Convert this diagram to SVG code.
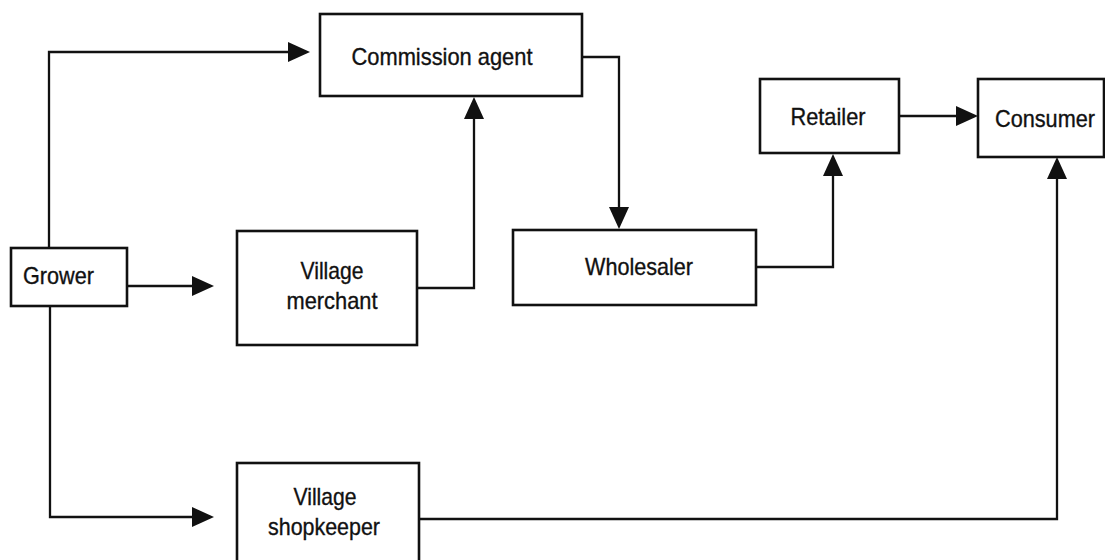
<svg xmlns="http://www.w3.org/2000/svg" width="1105" height="560" viewBox="0 0 1105 560">
  <style>
    .box { fill: #fff; stroke: #111; stroke-width: 2.6; }
    .lbl { font-family: "Liberation Sans", Arial, sans-serif; font-size: 24px; fill: #111; stroke: #111; stroke-width: 0.35; }
    .mid { text-anchor: middle; }
    .conn { fill: none; stroke: #111; stroke-width: 2.3; }
  </style>
  <defs>
    <marker id="arr" markerUnits="userSpaceOnUse" markerWidth="22" markerHeight="20" refX="16" refY="10" orient="auto" viewBox="0 0 22 20">
      <path d="M0,0 L22,10 L0,20 Z" fill="#111"/>
    </marker>
  </defs>
  <rect width="1105" height="560" fill="#fff"/>

  <g id="connectors">
    <path class="conn" d="M49,248 V52 H304" marker-end="url(#arr)"/>
    <path class="conn" d="M127,286 H208" marker-end="url(#arr)"/>
    <path class="conn" d="M50,306 V517 H208" marker-end="url(#arr)"/>
    <path class="conn" d="M417,288 H474 V103" marker-end="url(#arr)"/>
    <path class="conn" d="M582,57 H619 V223" marker-end="url(#arr)"/>
    <path class="conn" d="M756,267 H833 V160" marker-end="url(#arr)"/>
    <path class="conn" d="M899,116 H972" marker-end="url(#arr)"/>
    <path class="conn" d="M419,519 H1057 V163" marker-end="url(#arr)"/>
  </g>

  <g id="commission-agent">
    <rect class="box" x="320" y="14" width="262" height="82"/>
    <text class="lbl mid" x="442" y="65" textLength="181" lengthAdjust="spacingAndGlyphs">Commission agent</text>
  </g>
  <g id="grower">
    <rect class="box" x="11" y="248" width="116" height="58"/>
    <text class="lbl" x="23" y="284" textLength="71" lengthAdjust="spacingAndGlyphs">Grower</text>
  </g>
  <g id="village-merchant">
    <rect class="box" x="237" y="231" width="180" height="114"/>
    <text class="lbl mid" x="332" y="279" textLength="63" lengthAdjust="spacingAndGlyphs">Village</text>
    <text class="lbl mid" x="332" y="309" textLength="91" lengthAdjust="spacingAndGlyphs">merchant</text>
  </g>
  <g id="wholesaler">
    <rect class="box" x="513" y="230" width="243" height="75"/>
    <text class="lbl mid" x="639" y="275" textLength="108" lengthAdjust="spacingAndGlyphs">Wholesaler</text>
  </g>
  <g id="retailer">
    <rect class="box" x="760" y="79" width="139" height="74"/>
    <text class="lbl mid" x="828" y="125" textLength="75" lengthAdjust="spacingAndGlyphs">Retailer</text>
  </g>
  <g id="consumer">
    <rect class="box" x="978" y="79" width="126" height="78"/>
    <text class="lbl" x="995" y="127" textLength="100" lengthAdjust="spacingAndGlyphs">Consumer</text>
  </g>
  <g id="village-shopkeeper">
    <rect class="box" x="237" y="463" width="182" height="110"/>
    <text class="lbl mid" x="325" y="505" textLength="63" lengthAdjust="spacingAndGlyphs">Village</text>
    <text class="lbl mid" x="324" y="535" textLength="112" lengthAdjust="spacingAndGlyphs">shopkeeper</text>
  </g>
</svg>
